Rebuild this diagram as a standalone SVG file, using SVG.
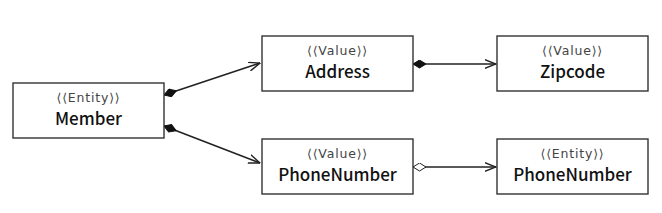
<svg xmlns="http://www.w3.org/2000/svg" width="662" height="213" viewBox="0 0 662 213">
<defs>
<marker id="arrow" viewBox="0 0 12 10" refX="11.5" refY="5" markerWidth="12" markerHeight="10" markerUnits="userSpaceOnUse" orient="auto">
<path d="M0,0.5 L11.5,5 L0,9.5" fill="none" stroke="#222" stroke-width="1.4"/>
</marker>
<marker id="dfill" viewBox="0 0 14 9" refX="0.5" refY="4.5" markerWidth="14" markerHeight="9" markerUnits="userSpaceOnUse" orient="auto">
<path d="M0.5,4.5 L7,0.5 L13.5,4.5 L7,8.5 Z" fill="#111" stroke="#111" stroke-width="1"/>
</marker>
<marker id="dopen" viewBox="0 0 14 9" refX="0.5" refY="4.5" markerWidth="14" markerHeight="9" markerUnits="userSpaceOnUse" orient="auto">
<path d="M0.5,4.5 L7,0.5 L13.5,4.5 L7,8.5 Z" fill="#fff" stroke="#222" stroke-width="1"/>
</marker>
</defs>
<style>
.box{fill:#fff;stroke:#333;stroke-width:1.4}
.st{font-family:"DejaVu Sans",sans-serif;font-size:12.5px;letter-spacing:0.8px;fill:#444;text-anchor:middle}
.nm{font-family:"Noto Sans CJK KR","Liberation Sans",sans-serif;font-size:17px;font-weight:500;fill:#111;text-anchor:middle}
.ln{fill:none;stroke:#222;stroke-width:1.5}
</style>
<rect width="662" height="213" fill="#fff"/>
<g id="connectors">
<line class="ln" x1="164" y1="95" x2="260" y2="63" marker-start="url(#dfill)" marker-end="url(#arrow)"/>
<line class="ln" x1="164" y1="126" x2="260" y2="163" marker-start="url(#dfill)" marker-end="url(#arrow)"/>
<line class="ln" x1="413" y1="64" x2="496" y2="64" marker-start="url(#dfill)" marker-end="url(#arrow)"/>
<line class="ln" x1="413" y1="167" x2="496" y2="167" marker-start="url(#dopen)" marker-end="url(#arrow)"/>
</g>
<g id="member">
<rect class="box" x="13" y="83" width="151" height="55"/>
<text class="st" x="88.5" y="102">⟨⟨Entity⟩⟩</text>
<text class="nm" x="88.5" y="125">Member</text>
</g>
<g id="address">
<rect class="box" x="262" y="36" width="151" height="55"/>
<text class="st" x="337.5" y="55">⟨⟨Value⟩⟩</text>
<text class="nm" x="337.5" y="78">Address</text>
</g>
<g id="zipcode">
<rect class="box" x="497" y="36" width="151" height="55"/>
<text class="st" x="572.5" y="55">⟨⟨Value⟩⟩</text>
<text class="nm" x="572.5" y="78">Zipcode</text>
</g>
<g id="phone-value">
<rect class="box" x="262" y="139" width="151" height="55"/>
<text class="st" x="337.5" y="158">⟨⟨Value⟩⟩</text>
<text class="nm" x="337.5" y="181">PhoneNumber</text>
</g>
<g id="phone-entity">
<rect class="box" x="497" y="139" width="151" height="55"/>
<text class="st" x="572.5" y="158">⟨⟨Entity⟩⟩</text>
<text class="nm" x="572.5" y="181">PhoneNumber</text>
</g>
</svg>
